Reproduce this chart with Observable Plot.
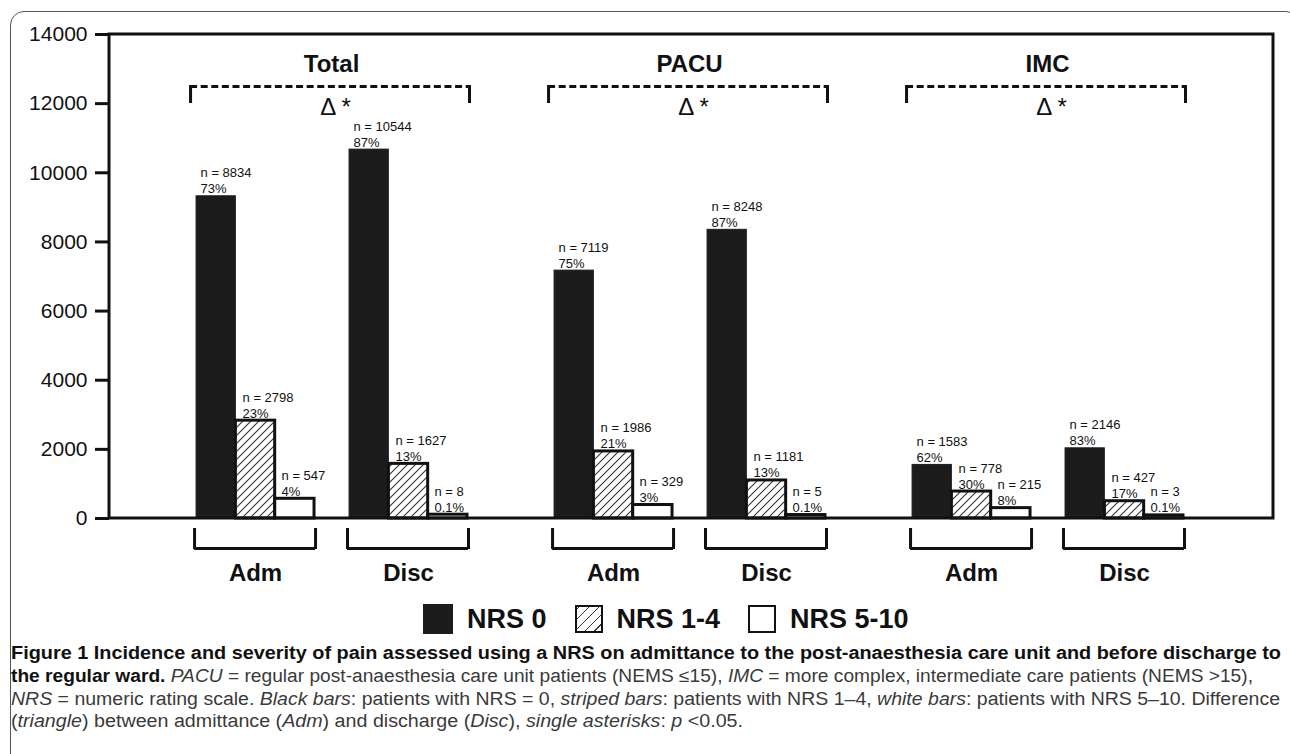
<!DOCTYPE html>
<html><head><meta charset="utf-8">
<script src="https://cdn.jsdelivr.net/npm/d3@7"></script>
<script src="https://cdn.jsdelivr.net/npm/@observablehq/plot@0.6"></script>
<style>
html,body{margin:0;padding:0;background:#fff;width:1290px;height:754px;overflow:hidden;font-family:"Liberation Sans",Arial,sans-serif;}
#border{position:absolute;left:10px;top:11px;width:1290px;height:800px;border:1.5px solid #555;border-radius:14px;box-sizing:border-box;}
#chart{position:absolute;left:0;top:0;}
#legend{position:absolute;left:423px;top:604px;display:flex;align-items:center;font-weight:bold;font-size:27px;color:#111;line-height:30px;}
#legend .sw{box-sizing:border-box;width:30px;height:30px;border:3px solid #111;}
#legend .lab{margin-left:14px;margin-right:28px;}
#cap{position:absolute;left:0;top:625px;}
#cap text{font-family:"Liberation Sans Narrow","Liberation Sans",Arial,sans-serif;font-size:18px;fill:#3a3a3a;}
#cap .b{font-weight:bold;fill:#111;}
#cap .i{font-style:italic;}
</style>
</head><body>
<div id="border"></div>
<div id="chart"></div>
<div id="legend"></div>
<svg id="cap" width="1290" height="129">
<text x="11" y="34" textLength="1270" lengthAdjust="spacingAndGlyphs" class="b">Figure 1 Incidence and severity of pain assessed using a NRS on admittance to the post-anaesthesia care unit and before discharge to</text>
<text x="11" y="57" textLength="1242" lengthAdjust="spacingAndGlyphs"><tspan class="b">the regular ward.</tspan> <tspan class="i">PACU</tspan> = regular post-anaesthesia care unit patients (NEMS ≤15), <tspan class="i">IMC</tspan> = more complex, intermediate care patients (NEMS &gt;15),</text>
<text x="11" y="80" textLength="1269" lengthAdjust="spacingAndGlyphs"><tspan class="i">NRS</tspan> = numeric rating scale. <tspan class="i">Black bars</tspan>: patients with NRS = 0, <tspan class="i">striped bars</tspan>: patients with NRS 1–4, <tspan class="i">white bars</tspan>: patients with NRS 5–10. Difference</text>
<text x="11" y="102" textLength="732" lengthAdjust="spacingAndGlyphs">(<tspan class="i">triangle</tspan>) between admittance (<tspan class="i">Adm</tspan>) and discharge (<tspan class="i">Disc</tspan>), <tspan class="i">single asterisks</tspan>: <tspan class="i">p</tspan> &lt;0.05.</text>
</svg>
<script>
// ---- data ----
const panels = ["Total", "PACU", "IMC"];
const phases = ["Adm", "Disc"];
const categories = ["NRS 0", "NRS 1-4", "NRS 5-10"];
const yTicks = [0, 2000, 4000, 6000, 8000, 10000, 12000, 14000];
// drawn bar heights, order: Adm(NRS0, NRS1-4, NRS5-10), Disc(NRS0, NRS1-4, NRS5-10)
const totalHeights = [9320, 2830, 570, 10670, 1580, 110];
const pacuHeights  = [7170, 1940, 390, 8350, 1100, 100];
const imcHeights   = [1550, 780, 300, 2030, 500, 90];
// printed counts and percentages
const totalN = [8834, 2798, 547, 10544, 1627, 8];
const pacuN  = [7119, 1986, 329, 8248, 1181, 5];
const imcN   = [1583, 778, 215, 2146, 427, 3];
const totalPct = ["73%", "23%", "4%", "87%", "13%", "0.1%"];
const pacuPct  = ["75%", "21%", "3%", "87%", "13%", "0.1%"];
const imcPct   = ["62%", "30%", "8%", "83%", "17%", "0.1%"];
const sigLabels = ["Δ *", "Δ *", "Δ *"];

// ---- build tables ----
const heights = [totalHeights, pacuHeights, imcHeights];
const counts = [totalN, pacuN, imcN];
const pcts = [totalPct, pacuPct, imcPct];
const rows = [];
panels.forEach((p, pi) => phases.forEach((ph, hi) => categories.forEach((c, ci) => {
  const k = hi * 3 + ci;
  rows.push({panel: p, phase: ph, cat: c, value: heights[pi][k], label: `n = ${counts[pi][k]}\n${pcts[pi][k]}`});
})));
const groups = [];
panels.forEach(p => phases.forEach(ph => groups.push({panel: p, phase: ph})));
const brackets = panels.map((p, i) => ({panel: p, from: phases[0], to: phases[1], sig: sigLabels[i]}));

const W = 1290, H = 590, mL = 109, mR = 17, mT = 34, mB = 72;
const yTop = yTicks[yTicks.length - 1];
const third = 118 / 3;
const insets = [[0, 2 * third], [third, third], [2 * third, 0]];
const labelDx = [-55, -13, 26];
const fills = ["#1c1c1c", "url(#hatch)", "#ffffff"];
const strokes = ["#1c1c1c", "#111", "#111"];
const strokeW = [1, 3, 3];

const barMarks = categories.flatMap((c, ci) => [
  Plot.barY(rows.filter(d => d.cat === c), {fx: "panel", x: "phase", y: "value",
    fill: fills[ci], stroke: strokes[ci], strokeWidth: strokeW[ci],
    insetLeft: insets[ci][0], insetRight: insets[ci][1]}),
  Plot.text(rows.filter(d => d.cat === c), {fx: "panel", x: "phase", y: "value", text: "label",
    textAnchor: "start", lineAnchor: "bottom", dx: labelDx[ci], dy: -3, fontSize: 13, lineHeight: 1.23, fill: "#111"})
]);

const chart = Plot.plot({
  width: W, height: H,
  marginLeft: mL, marginRight: mR, marginTop: mT, marginBottom: mB,
  style: {fontFamily: '"Liberation Sans", Arial, sans-serif', background: "transparent", color: "#111", overflow: "visible"},
  fx: {domain: panels, paddingInner: 0, paddingOuter: 0.1257, align: 0, axis: null, round: false},
  x: {domain: phases, paddingInner: 0.229, paddingOuter: 0.2846, align: 1, round: false, label: null},
  y: {domain: [0, yTop], label: null},
  marks: [
    ...barMarks,
    Plot.axisY({ticks: yTicks, tickFormat: d3.format("d"), tickSize: 14, tickPadding: 8, fontSize: 21, strokeWidth: 3, label: null}),
    Plot.axisX({tickSize: 0, tickPadding: 45, fontSize: 24, fontWeight: "bold", label: null}),
    // bottom group brackets
    Plot.ruleY(groups, {fx: "panel", x1: "phase", x2: "phase", y: 0, dy: 30, strokeWidth: 3, stroke: "#111", insetLeft: -2, insetRight: -1}),
    Plot.ruleX(groups, {fx: "panel", x: "phase", y1: 0, y2: 0, insetTop: 10, insetBottom: -31, dx: -61, strokeWidth: 3, stroke: "#111"}),
    Plot.ruleX(groups, {fx: "panel", x: "phase", y1: 0, y2: 0, insetTop: 10, insetBottom: -31, dx: 60, strokeWidth: 3, stroke: "#111"}),
    // significance brackets
    Plot.ruleY(brackets, {fx: "panel", x1: "from", x2: "to", y: yTop, dy: 52, strokeWidth: 3, stroke: "#111", strokeDasharray: "7,3.6", insetLeft: -6, insetRight: -3}),
    Plot.ruleX(brackets, {fx: "panel", x: "from", y1: yTop, y2: yTop, insetTop: 51, insetBottom: -69, dx: -65, strokeWidth: 3, stroke: "#111"}),
    Plot.ruleX(brackets, {fx: "panel", x: "to", y1: yTop, y2: yTop, insetTop: 51, insetBottom: -69, dx: 61, strokeWidth: 3, stroke: "#111"}),
    Plot.text(brackets, {fx: "panel", x: "from", y: yTop, text: "sig", dx: 80, dy: 73, fontSize: 24, fill: "#111"}),
    Plot.text(brackets, {fx: "panel", x: "from", y: yTop, text: "panel", dx: 76, dy: 30, fontSize: 24, fontWeight: "bold", fill: "#111"})
  ]
});

const svg = d3.select(chart.tagName.toLowerCase() === "svg" ? chart : chart.querySelector("svg"));
// hatch pattern for striped bars
const defs = svg.insert("defs", ":first-child");
const pat = defs.append("pattern").attr("id", "hatch").attr("patternUnits", "userSpaceOnUse").attr("width", 8).attr("height", 8);
pat.append("rect").attr("width", 8).attr("height", 8).attr("fill", "#fff");
pat.append("path").attr("d", "M0,8 L8,0 M-2,2 L2,-2 M6,10 L10,6").attr("stroke", "#333").attr("stroke-width", 1.1);
// plot frame spanning all facets, positioned with the plot's y scale
const ys = chart.scale("y");
svg.append("rect")
  .attr("x", mL).attr("width", W - mL - mR)
  .attr("y", ys.apply(yTop)).attr("height", ys.apply(0) - ys.apply(yTop))
  .attr("fill", "none").attr("stroke", "#111").attr("stroke-width", 3);
document.getElementById("chart").appendChild(chart);

// legend
const legend = d3.select("#legend");
const swStyles = [
  "background:#1c1c1c;border-color:#1c1c1c;",
  "width:28px;height:28px;border-width:2px;background:repeating-linear-gradient(-45deg,#fff 0 4px,#333 4px 5px,#fff 5px 7px);",
  "width:28px;height:28px;border-width:2px;background:#fff;"
];
categories.forEach((c, i) => {
  legend.append("div").attr("class", "sw").attr("style", swStyles[i]);
  legend.append("div").attr("class", "lab").text(c);
});
</script>
</body></html>
